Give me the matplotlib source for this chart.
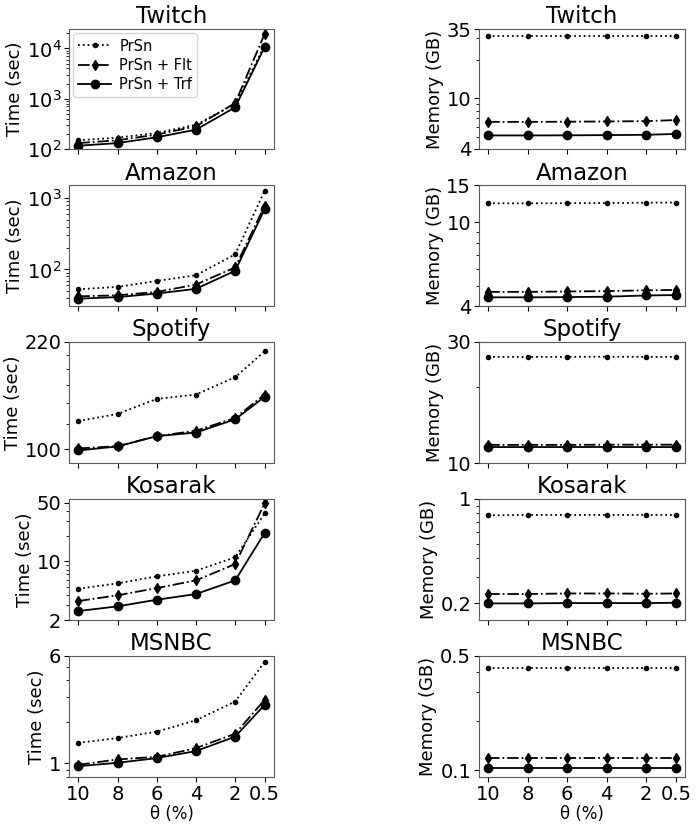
import matplotlib
matplotlib.use("Agg")
import matplotlib.pyplot as plt
from matplotlib.ticker import FixedLocator, FixedFormatter, NullFormatter

theta = [10, 8, 6, 4, 2, 0.5]
theta_labels = ["10", "8", "6", "4", "2", "0.5"]
datasets = ["Twitch", "Amazon", "Spotify", "Kosarak", "MSNBC"]
series = ["PrSn", "PrSn + Flt", "PrSn + Trf"]

# Time (sec)
twitch_time_prsn = [149, 168, 208, 304, 783, 11500]
twitch_time_flt = [131, 149, 193, 282, 820, 19300]
twitch_time_trf = [116, 131, 171, 242, 673, 10600]

amazon_time_prsn = [52.8, 57, 69, 83, 163, 1268]
amazon_time_flt = [42, 43.5, 48.4, 61.5, 107, 780]
amazon_time_trf = [39, 41, 46, 53.5, 96, 700]

spotify_time_prsn = [123, 129.5, 144.7, 149.4, 169.8, 205.3]
spotify_time_flt = [100.5, 102.2, 110, 114.5, 125.8, 149.4]
spotify_time_trf = [99, 102, 110, 113, 124.5, 146.9]

kosarak_time_prsn = [4.72, 5.47, 6.63, 7.74, 11.2, 37.3]
kosarak_time_flt = [3.37, 3.94, 4.81, 5.94, 9.3, 49.1]
kosarak_time_trf = [2.56, 2.91, 3.49, 4.08, 5.94, 21.8]

msnbc_time_prsn = [1.41, 1.526, 1.697, 2.05, 2.80, 5.40]
msnbc_time_flt = [0.978, 1.069, 1.117, 1.29, 1.64, 2.88]
msnbc_time_trf = [0.956, 1.011, 1.093, 1.229, 1.561, 2.65]

# Memory (GB)
twitch_mem_prsn = [31.0, 31.0, 31.0, 31.0, 31.0, 31.0]
twitch_mem_flt = [6.53, 6.53, 6.55, 6.58, 6.62, 6.75]
twitch_mem_trf = [5.11, 5.11, 5.12, 5.14, 5.17, 5.25]

amazon_mem_prsn = [12.3, 12.3, 12.32, 12.33, 12.38, 12.4]
amazon_mem_flt = [4.68, 4.68, 4.70, 4.72, 4.76, 4.78]
amazon_mem_trf = [4.41, 4.41, 4.42, 4.44, 4.50, 4.52]

spotify_mem_prsn = [26.2, 26.2, 26.2, 26.25, 26.2, 26.2]
spotify_mem_flt = [11.8, 11.8, 11.8, 11.82, 11.82, 11.82]
spotify_mem_trf = [11.57, 11.57, 11.57, 11.58, 11.57, 11.57]

kosarak_mem_prsn = [0.775, 0.78, 0.78, 0.78, 0.78, 0.78]
kosarak_mem_flt = [0.230, 0.230, 0.232, 0.232, 0.231, 0.232]
kosarak_mem_trf = [0.199, 0.199, 0.200, 0.200, 0.200, 0.201]

msnbc_mem_prsn = [0.418, 0.418, 0.418, 0.418, 0.418, 0.418]
msnbc_mem_flt = [0.118, 0.118, 0.118, 0.118, 0.118, 0.118]
msnbc_mem_trf = [0.1038, 0.1038, 0.1038, 0.1038, 0.1038, 0.1038]

time_data = [
    [twitch_time_prsn, twitch_time_flt, twitch_time_trf],
    [amazon_time_prsn, amazon_time_flt, amazon_time_trf],
    [spotify_time_prsn, spotify_time_flt, spotify_time_trf],
    [kosarak_time_prsn, kosarak_time_flt, kosarak_time_trf],
    [msnbc_time_prsn, msnbc_time_flt, msnbc_time_trf],
]
mem_data = [
    [twitch_mem_prsn, twitch_mem_flt, twitch_mem_trf],
    [amazon_mem_prsn, amazon_mem_flt, amazon_mem_trf],
    [spotify_mem_prsn, spotify_mem_flt, spotify_mem_trf],
    [kosarak_mem_prsn, kosarak_mem_flt, kosarak_mem_trf],
    [msnbc_mem_prsn, msnbc_mem_flt, msnbc_mem_trf],
]

time_ticks = [[100, 1000, 10000], [100, 1000], [100, 220], [2, 10, 50], [1, 6]]
time_ticklabels = [[r"$10^2$", r"$10^3$", r"$10^4$"], [r"$10^2$", r"$10^3$"],
                   ["100", "220"], ["2", "10", "50"], ["1", "6"]]
time_lims = [(100, 24200), (30.5, 1524), (90.2, 220), (2, 55.8), (0.8, 6)]

mem_ticks = [[4, 10, 35], [4, 10, 15], [10, 30], [0.2, 1], [0.1, 0.5]]
mem_ticklabels = [["4", "10", "35"], ["4", "10", "15"], ["10", "30"],
                  ["0.2", "1"], ["0.1", "0.5"]]
mem_lims = [(4, 35), (4, 15), (10, 30), (0.154, 1), (0.091, 0.5)]

styles = [
    dict(linestyle=":", marker=".", markersize=6, color="black", linewidth=1.3),
    dict(linestyle="-.", marker="d", markersize=5, color="black", linewidth=1.3),
    dict(linestyle="-", marker="o", markersize=6, color="black", linewidth=1.3),
]

fig = plt.figure(figsize=(6.97, 8.30), dpi=100)

left_x, left_w = 0.099, 0.294
right_x, right_w = 0.687, 0.296
rows = [(0.8205, 0.965), (0.631, 0.777), (0.442, 0.588), (0.253, 0.399), (0.064, 0.210)]

def style_axes(ax, ticks, labels, lims, ylabel, title, last):
    ax.set_yscale("log")
    ax.set_xlim(10.475, 0.025)
    ax.set_ylim(*lims)
    ax.yaxis.set_major_locator(FixedLocator(ticks))
    ax.yaxis.set_major_formatter(FixedFormatter(labels))
    ax.yaxis.set_minor_formatter(NullFormatter())
    ax.set_xticks(theta)
    if last:
        ax.set_xticklabels(theta_labels, fontsize=14)
        ax.set_xlabel("θ (%)", fontsize=12, labelpad=1)
    else:
        ax.set_xticklabels([])
    ax.tick_params(axis="y", labelsize=14, pad=2)
    ax.tick_params(axis="x", pad=2)
    ax.set_ylabel(ylabel, fontsize=13, labelpad=2)
    ax.set_title(title, fontsize=16.5, pad=4)
    for s in ax.spines.values():
        s.set_color("0.35")

for i, ds in enumerate(datasets):
    b, t = rows[i]
    axl = fig.add_axes([left_x, b, left_w, t - b])
    axr = fig.add_axes([right_x, b, right_w, t - b])
    for j, name in enumerate(series):
        axl.plot(theta, time_data[i][j], label=name, **styles[j])
        axr.plot(theta, mem_data[i][j], label=name, **styles[j])
    last = i == len(datasets) - 1
    style_axes(axl, time_ticks[i], time_ticklabels[i], time_lims[i], "Time (sec)", ds, last)
    style_axes(axr, mem_ticks[i], mem_ticklabels[i], mem_lims[i], "Memory (GB)", ds, last)
    if i == 0:
        axl.legend(loc="upper left", fontsize=10.5, handlelength=2.2,
                   borderaxespad=0.3, labelspacing=0.3, handletextpad=0.6,
                   borderpad=0.35)

fig.savefig("out.png", dpi=100)
